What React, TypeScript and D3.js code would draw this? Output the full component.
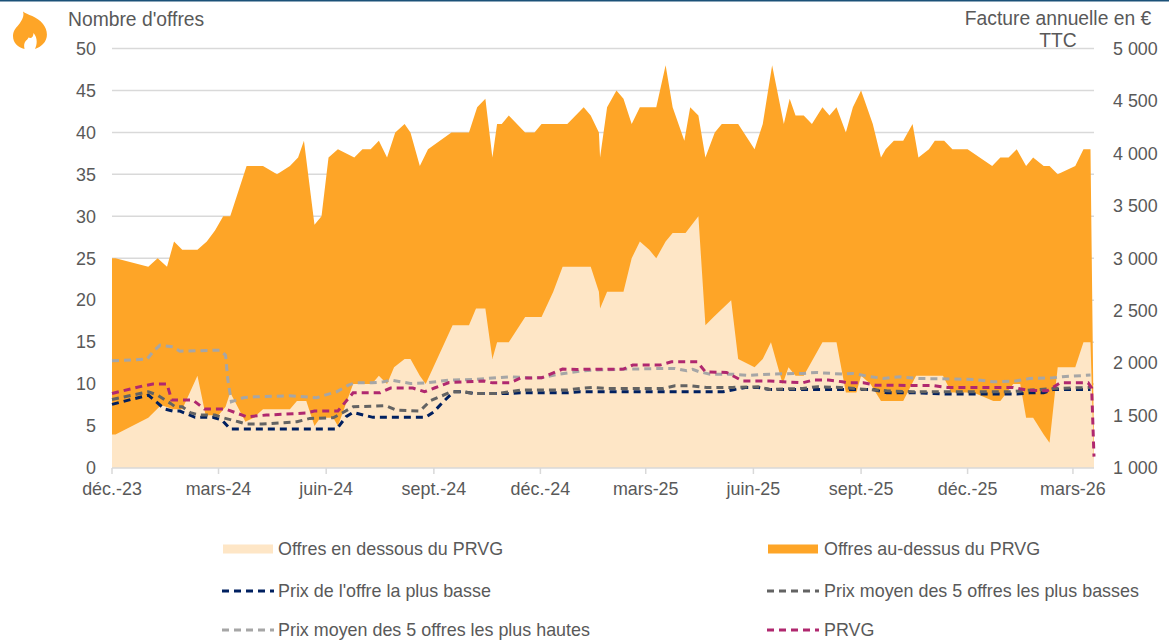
import React from "react";
import * as d3 from "d3";

// All series: [days since 1 Dec 2023, value]
const totalOffers: [number, number][] = [[0,25],[3,25],[31,24],[39,25],[47,24],[53,27],[60,26],[73,26],[81,27],[88,28.3],[95,30],[101,30],[115,36],[129,36],[141,35],[152,36],[159,37],[164,39],[173,29],[179,30],[185,37],[193,38],[207,37],[214,38],[221,38],[228,39],[235,37],[242,40],[250,41],[255,40],[263,36],[270,38],[290,40],[305,40],[312,43],[319,44],[325,37],[329,41],[333,41],[339,42],[353,40],[361,40],[367,41],[389,41],[403,43],[409,42],[416,40],[417,37],[423,43],[431,45],[437,44],[444,41],[451,43],[465,43],[473,48],[479,43],[489,39],[494,43],[501,42],[507,37],[515,40],[521,41],[535,41],[549,38],[556,41],[564,48],[574,41],[579,44],[584,42],[591,42],[598,41],[607,43],[613,42],[619,43],[627,40],[633,43],[640,45],[650,41],[657,37],[661,38],[668,39],[676,39],[684,41],[689,37],[698,38],[703,39],[711,39],[718,38],[731,38],[752,36],[759,37],[766,37],[773,38],[781,36],[787,37],[796,36],[801,36],[808,35],[823,36],[830,38],[836,38],[839,2]];
const offersBelow: [number, number][] = [[0,4],[3,4],[31,6],[42,7.5],[52,7],[60,7],[73,11],[80,6.3],[91,6.3],[97,7.3],[101,9],[114,5.5],[121,6],[129,7],[152,7],[158,8],[166,8],[173,5],[178,6],[189,6],[193,5],[206,10],[222,10],[228,11],[235,10],[241,12],[250,13],[255,13],[263,11],[268,10],[291,17],[305,17],[311,19],[319,19],[325,13],[329,15],[339,15],[353,18],[367,18],[377,21],[385,24],[409,24],[416,21],[417,19],[423,21],[437,21],[444,25],[451,27],[459,26],[465,25],[473,27],[479,28],[490,28],[501,30],[507,17],[514,18],[529,20],[535,13],[549,12],[556,13],[563,15],[573,10],[578,12],[584,11],[591,11],[607,15],[619,15],[627,9],[636,9],[640,11],[648,10],[657,8],[676,8],[687,11],[710,11],[717,9],[736,9],[753,8],[759,8],[770,10],[776,10],[781,6],[787,6],[796,4],[801,3],[808,12],[823,12],[830,15],[836,15],[839,1]];
const lowestPrice: [number, number][] = [[0,1607],[31,1695],[45,1562],[52,1543],[58,1543],[71,1483],[86,1483],[94,1457],[101,1371],[192,1371],[200,1489],[206,1530],[215,1505],[223,1483],[268,1483],[275,1536],[283,1632],[292,1727],[300,1727],[309,1711],[338,1711],[349,1717],[389,1717],[400,1727],[522,1727],[532,1749],[541,1768],[552,1768],[562,1749],[650,1749],[662,1717],[688,1717],[713,1705],[773,1705],[784,1717],[796,1717],[804,1749],[836,1749]];
const lowFiveMean: [number, number][] = [[0,1654],[31,1727],[39,1695],[50,1616],[54,1584],[60,1584],[67,1527],[75,1505],[88,1505],[95,1479],[108,1441],[115,1419],[128,1419],[158,1441],[169,1473],[189,1479],[197,1527],[206,1584],[234,1594],[243,1552],[263,1543],[272,1641],[290,1727],[300,1727],[309,1711],[329,1711],[350,1743],[389,1743],[400,1759],[411,1768],[423,1759],[471,1759],[481,1784],[494,1784],[508,1768],[530,1768],[552,1775],[562,1749],[590,1759],[603,1775],[622,1768],[645,1749],[662,1736],[684,1727],[767,1727],[804,1759],[836,1768]];
const highFiveMean: [number, number][] = [[0,2022],[30,2038],[35,2108],[41,2171],[52,2155],[58,2114],[92,2124],[97,2076],[99,1838],[102,1632],[112,1670],[122,1679],[152,1689],[175,1670],[182,1695],[192,1727],[202,1790],[208,1812],[222,1812],[232,1822],[238,1838],[255,1806],[269,1812],[288,1838],[310,1845],[321,1854],[340,1870],[357,1860],[367,1860],[380,1892],[400,1924],[411,1933],[440,1943],[471,1949],[481,1949],[491,1927],[496,1940],[502,1917],[511,1895],[530,1895],[543,1883],[562,1895],[590,1902],[602,1911],[624,1895],[633,1902],[645,1876],[659,1854],[673,1870],[688,1854],[736,1845],[753,1822],[773,1831],[784,1854],[804,1860],[812,1870],[836,1886]];
const prvg: [number, number][] = [[0,1711],[26,1781],[35,1800],[47,1800],[51,1648],[69,1648],[79,1562],[97,1562],[115,1489],[132,1505],[166,1524],[173,1543],[193,1543],[206,1717],[229,1717],[238,1762],[257,1762],[267,1727],[276,1765],[288,1815],[318,1829],[325,1812],[340,1812],[349,1857],[367,1860],[379,1917],[385,1943],[397,1940],[437,1943],[445,1981],[468,1981],[478,2012],[500,2012],[507,1917],[525,1911],[532,1870],[539,1829],[562,1829],[590,1812],[599,1838],[612,1838],[624,1822],[628,1812],[642,1812],[652,1790],[682,1787],[701,1787],[714,1768],[770,1768],[782,1743],[799,1736],[804,1768],[810,1812],[834,1812],[837,1762],[839,1108]];

const leftTicks = [0, 5, 10, 15, 20, 25, 30, 35, 40, 45, 50];
const rightTicks = [1000, 1500, 2000, 2500, 3000, 3500, 4000, 4500, 5000];
const xTickLabels = ["déc.-23", "mars-24", "juin-24", "sept.-24", "déc.-24", "mars-25", "juin-25", "sept.-25", "déc.-25", "mars-26"];

const FONT = "'Liberation Sans', Arial, sans-serif";
const TEXT = "#595959";
const GRID = "#d9d9d9";
const ORANGE = "#fea527";
const CREAM = "#fee6c6";
const NAVY = "#002060";
const DARKGREY = "#636363";
const LIGHTGREY = "#a6a6a6";
const MAGENTA = "#b0286f";

const start = Date.UTC(2023, 11, 1);
const dayDate = (d: number) => new Date(start + d * 864e5);

const x = d3.scaleUtc().domain([dayDate(0), dayDate(839)]).range([112, 1094]);
const yLeft = d3.scaleLinear().domain([0, 50]).range([468, 48.5]);
const yRight = d3.scaleLinear().domain([1000, 5000]).range([468, 48.5]);

const areaOf = d3.area<[number, number]>().x((d) => x(dayDate(d[0]))).y0(yLeft(0)).y1((d) => yLeft(d[1])).curve(d3.curveLinear);
const lineOf = d3.line<[number, number]>().x((d) => x(dayDate(d[0]))).y((d) => yRight(d[1])).curve(d3.curveLinear);

const priceSeries = [
  { name: "low", data: lowestPrice, color: NAVY },
  { name: "low5", data: lowFiveMean, color: DARKGREY },
  { name: "high5", data: highFiveMean, color: LIGHTGREY },
  { name: "prvg", data: prvg, color: MAGENTA },
];

const spaced = d3.format(",");
const fmtRight = (v: number) => spaced(v).replace(",", " ");
const xTicks = xTickLabels.map((label, i) => ({ label, date: d3.utcMonth.offset(dayDate(0), i * 3) }));
const DASH = "7 5";

const legendAreas = [
  { label: "Offres en dessous du PRVG", color: CREAM, sx: 223, tx: 278, y: 549 },
  { label: "Offres au-dessus du PRVG", color: ORANGE, sx: 768, tx: 824, y: 549 },
];
const legendLines = [
  { label: "Prix de l'offre la plus basse", color: NAVY, sx: 223, tx: 278, y: 591 },
  { label: "Prix moyen des 5 offres les plus basses", color: DARKGREY, sx: 768, tx: 824, y: 591 },
  { label: "Prix moyen des 5 offres les plus hautes", color: LIGHTGREY, sx: 223, tx: 278, y: 630 },
  { label: "PRVG", color: MAGENTA, sx: 768, tx: 824, y: 630 },
];

export default function App() {
  return (
    <svg width={1169} height={644} viewBox="0 0 1169 644" style={{ position: "absolute", left: 0, top: 0, background: "#fff" }} fontFamily={FONT} fontSize={17.9} fill={TEXT}>
      <rect x={0} y={0} width={1169} height={1.5} fill="#1b5178" />
      <path fill={ORANGE} d="M23 11.500 C27 15 37 16 43 24 C48 30 48.500 39 43 44 C41 46 38 48 35 49 C37 45 38 38 33.500 33 C33.500 37 31 39 28.500 37.500 C27 41 23 41 24.500 49 C18 47.500 13 43 13 36 C13 30 17 27 20 23 C22 20 24.500 16 23 11.500 Z" />

      {leftTicks.slice(1).map((t) => (
        <line key={t} x1={112} x2={1094} y1={yLeft(t)} y2={yLeft(t)} stroke={GRID} strokeWidth={1.5} />
      ))}

      <path d={areaOf(totalOffers) ?? ""} fill={ORANGE} />
      <path d={areaOf(offersBelow) ?? ""} fill={CREAM} />

      <line x1={112} x2={1094} y1={yLeft(0)} y2={yLeft(0)} stroke={GRID} strokeWidth={1.5} />
      {xTicks.map((t) => (
        <line key={t.label} x1={x(t.date)} x2={x(t.date)} y1={468} y2={474} stroke={GRID} strokeWidth={1.5} />
      ))}

      {priceSeries.map((s) => (
        <path key={s.name} d={lineOf(s.data) ?? ""} fill="none" stroke={s.color} strokeWidth={3} strokeDasharray={DASH} />
      ))}

      {leftTicks.map((t) => (
        <text key={t} x={96} y={yLeft(t)} dy="0.35em" textAnchor="end">{t}</text>
      ))}
      {rightTicks.map((t) => (
        <text key={t} x={1113} y={yRight(t)} dy="0.35em">{fmtRight(t)}</text>
      ))}
      {xTicks.map((t) => (
        <text key={t.label} x={x(t.date)} y={495} textAnchor="middle">{t.label}</text>
      ))}

      <text x={68} y={26} fontSize={19.3}>Nombre d'offres</text>
      <text x={1058} y={24.500} fontSize={19.3} textAnchor="middle">Facture annuelle en €</text>
      <text x={1058} y={47} fontSize={19.3} textAnchor="middle">TTC</text>

      {legendAreas.map((l) => (
        <g key={l.label}>
          <rect x={l.sx} y={l.y - 4.500} width={50} height={9} fill={l.color} />
          <text x={l.tx} y={l.y} dy="0.35em">{l.label}</text>
        </g>
      ))}
      {legendLines.map((l) => (
        <g key={l.label}>
          <line x1={l.sx - 1} x2={l.sx + 51} y1={l.y} y2={l.y} stroke={l.color} strokeWidth={3} strokeDasharray={DASH} />
          <text x={l.tx} y={l.y} dy="0.35em">{l.label}</text>
        </g>
      ))}
    </svg>
  );
}
